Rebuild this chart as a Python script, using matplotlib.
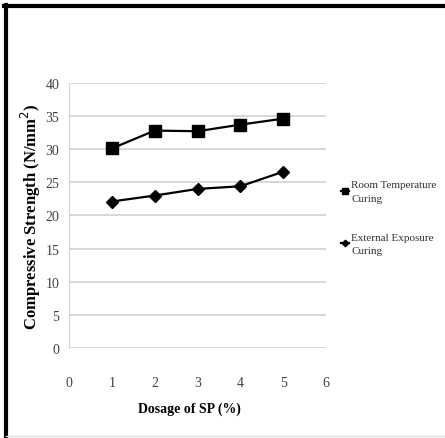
import matplotlib.pyplot as plt
from matplotlib.lines import Line2D

# Data
dosage = [1, 2, 3, 4, 5]
room_temp = [30.1, 32.8, 32.7, 33.7, 34.6]
external = [22.1, 23.0, 24.0, 24.4, 26.6]
labels = ["Room Temperature\nCuring", "External Exposure\nCuring"]

plt.rcParams['font.family'] = ['Liberation Serif', 'DejaVu Serif']

fig = plt.figure(figsize=(4.45, 4.39), dpi=100)
ax = fig.add_axes([0.155, 0.205, 0.578, 0.604])

ax.plot(dosage, room_temp, color='black', marker='s', markersize=9, lw=1.6, label=labels[0])
ax.plot(dosage, external, color='black', marker='D', markersize=6, lw=1.6, label=labels[1])

ax.set_xlim(0, 6)
ax.set_ylim(0, 40)
ax.set_xticks(range(0, 7))
ax.set_yticks(range(0, 41, 5))
ax.yaxis.grid(True, color='#d4d4d4', lw=1.3)
ax.set_axisbelow(True)
for s in ['top', 'right', 'bottom']:
    ax.spines[s].set_visible(False)
ax.spines['left'].set_color('#d4d4d4')
ax.tick_params(length=0, labelsize=10, colors='#404040')
ax.tick_params(axis='x', pad=20)
ax.tick_params(axis='y', pad=7)

ax.set_xlabel("Dosage of SP (%)", fontsize=10, fontweight='bold')
ax.xaxis.set_label_coords(0.47, -0.2)
ax.set_ylabel("Compressive Strength (N/mm$^2$)", fontsize=12, fontweight='bold')
ax.yaxis.set_label_coords(-0.10, 0.5)

leg = ax.legend(loc='upper left', bbox_to_anchor=(1.02, 0.67), frameon=False,
                fontsize=8, handlelength=0.7, handletextpad=0.2,
                labelspacing=2.7, markerscale=0.55)
for t in leg.get_texts():
    t.set_color('#303030')
    t.set_linespacing(1.6)

# black frame on top and left, faint line at bottom
fig.add_artist(Line2D([0.01, 1.0], [0.984, 0.984], color='black', lw=3, transform=fig.transFigure))
fig.add_artist(Line2D([0.013, 0.013], [0.0, 0.987], color='black', lw=3, transform=fig.transFigure))
fig.add_artist(Line2D([0.013, 1.0], [0.005, 0.005], color='#dddddd', lw=1, transform=fig.transFigure))

plt.savefig('out.png', dpi=100)
